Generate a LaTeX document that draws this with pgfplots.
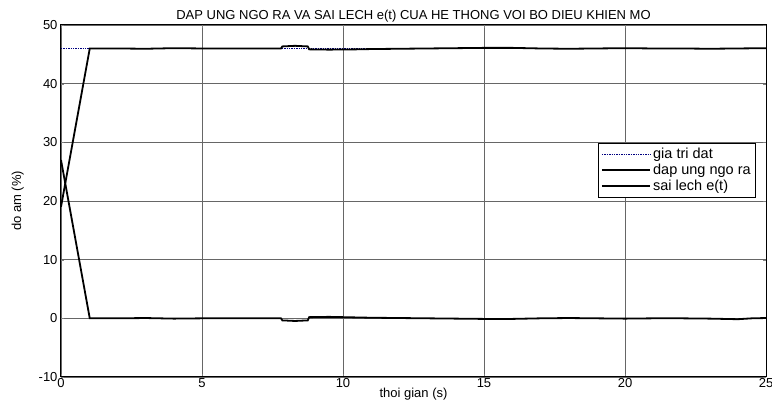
\documentclass[border=0pt]{standalone}
\usepackage{pgfplots}
\pgfplotsset{compat=1.18}
\usepackage{fontspec}
\setmainfont{Liberation Sans}
\definecolor{navy}{RGB}{0,0,128}

\begin{document}
\begin{tikzpicture}
\useasboundingbox (-61pt,-34pt) rectangle (711pt,377pt);
\begin{axis}[
  at={(0,0)}, anchor=south west,
  scale only axis, width=705pt, height=352pt,
  xmin=0, xmax=25, ymin=-10, ymax=50,
  xtick={0,5,...,25}, ytick={-10,0,...,50},
  tick align=inside, major tick length=3pt,
  grid=major, major grid style={gray!80!black, line width=0.6pt},
  axis line style={line width=1pt},
  font=\fontsize{13}{15}\selectfont,
  /pgf/number format/assume math mode=true,
  ticklabel style={font=\fontsize{13}{15}\selectfont},
  xticklabel style={yshift=2pt},
  title={DAP UNG NGO RA VA SAI LECH e(t) CUA HE THONG VOI BO DIEU KHIEN MO},
  title style={yshift=-7pt},
  xlabel={thoi gian (s)}, ylabel={do am (\%)},
  xlabel style={yshift=7pt}, ylabel style={yshift=8pt},
  legend style={at={(0.986,0.665)}, anchor=north east, draw=black,
    line width=0.8pt,
    font=\fontsize{14.5}{17}\selectfont, inner sep=3pt, row sep=0pt,
    legend cell align=left},
  legend image code/.code={\draw[#1] (0.15cm,0cm) -- (1.85cm,0cm);},
]
\addplot[navy, densely dotted, line width=1.4pt] coordinates {(0,46) (25,46)};
\addlegendentry{gia tri dat}
\addplot[black, line width=1.8pt] coordinates {
(0,19.0) (1.02,46.0) (2,46.0) (3,45.95) (4,46.05) (5,46.0) (6,46.0) (7,46.0)
(7.8,46.0) (7.85,46.35) (8.3,46.45) (8.75,46.35) (8.8,45.85) (9.5,45.8)
(10.5,45.85) (11,45.9) (12,45.95) (13,46.0) (14,46.05) (15,46.1) (16,46.1)
(17,46.0) (18,45.95) (19,46.0) (20,46.05) (21,46.0) (22,46.0) (23,45.95)
(24,46.0) (25,46.05)};
\addlegendentry{dap ung ngo ra}
\addplot[black, line width=1.8pt] coordinates {
(0,27.0) (1.02,0.0) (2,0.0) (3,0.05) (4,-0.05) (5,0.0) (6,0.0) (7,0.0)
(7.8,0.0) (7.85,-0.35) (8.3,-0.45) (8.75,-0.35) (8.8,0.2) (9.5,0.25)
(10.5,0.15) (11,0.1) (12,0.05) (13,0.0) (14,-0.05) (15,-0.1) (16,-0.1)
(17,0.0) (18,0.05) (19,0.0) (20,-0.05) (21,0.0) (22,0.0) (23,-0.05)
(24,-0.15) (24.5,0.0) (25,0.05)};
\addlegendentry{sai lech e(t)}
\end{axis}
\end{tikzpicture}
\end{document}
